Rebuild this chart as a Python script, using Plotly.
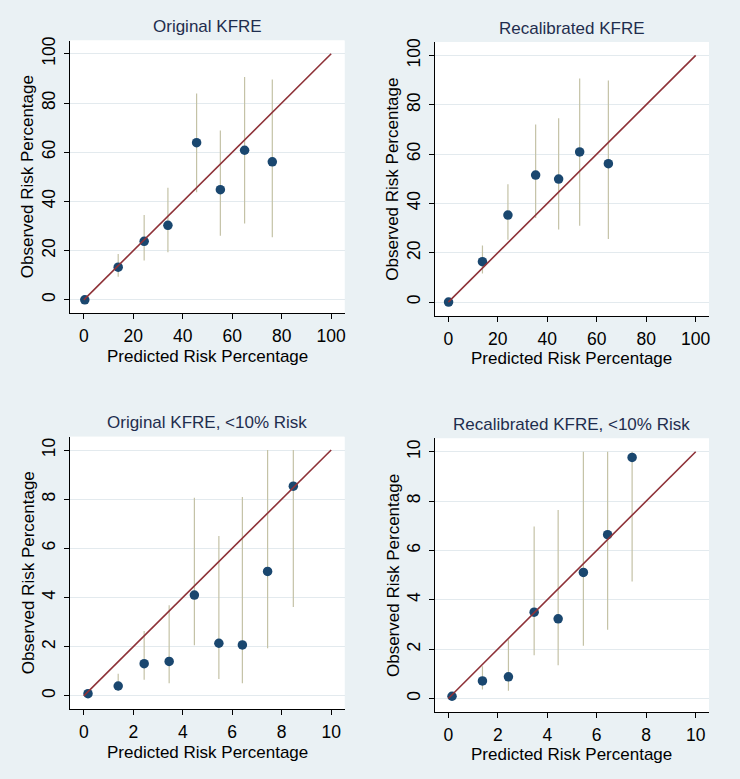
import plotly.graph_objects as go

# ---------------- data ----------------
titles = ["Original KFRE", "Recalibrated KFRE",
          "Original KFRE, <10% Risk", "Recalibrated KFRE, <10% Risk"]

p1_x = [0.4, 13.9, 24.4, 34.0, 45.6, 55.2, 65.0, 76.2]
p1_y = [0.0, 13.3, 23.8, 30.3, 63.9, 44.8, 60.8, 56.1]
p1_lo = [0.0, 9.4, 16.0, 19.4, 43.7, 26.1, 31.0, 25.4]
p1_hi = [0.0, 18.6, 34.5, 45.6, 83.9, 68.8, 90.6, 89.6]

p2_x = [0.1, 13.8, 24.1, 35.3, 44.6, 53.1, 64.7]
p2_y = [0.0, 16.4, 35.3, 51.5, 49.9, 60.9, 56.1]
p2_lo = [0.0, 11.6, 25.3, 34.1, 29.4, 31.0, 25.6]
p2_hi = [0.0, 23.0, 47.8, 72.0, 74.5, 90.6, 89.8]

p3_x = [0.17, 1.39, 2.44, 3.45, 4.47, 5.46, 6.41, 7.43, 8.47]
p3_y = [0.09, 0.40, 1.31, 1.40, 4.10, 2.14, 2.07, 5.06, 8.53]
p3_lo = [0.09, 0.22, 0.65, 0.51, 2.06, 0.69, 0.51, 1.94, 3.61]
p3_hi = [0.09, 0.90, 2.64, 3.69, 8.06, 6.50, 8.09, 10.0, 10.0]

p4_x = [0.15, 1.38, 2.43, 3.47, 4.44, 5.46, 6.44, 7.43]
p4_y = [0.09, 0.71, 0.88, 3.50, 3.23, 5.11, 6.64, 9.77]
p4_lo = [0.09, 0.36, 0.31, 1.75, 1.35, 2.14, 2.79, 4.74]
p4_hi = [0.09, 1.31, 2.39, 6.97, 7.64, 10.0, 10.0, 10.0]

diag_big = [0, 100]
diag_small = [0, 10]
ticks_big = [0, 20, 40, 60, 80, 100]
ticks_small = [0, 2, 4, 6, 8, 10]

x_title = "Predicted Risk Percentage"
y_title = "Observed Risk Percentage"

# ---------------- style ----------------
W, H = 740, 779
BG = "#EAF1F4"
NAVY = "#1A476F"
MAROON = "#8E3238"
SPIKE = "#C4C2A6"
GRID = "#E3EAEE"
TITLE_C = "#1F2D4E"
FONT = "Liberation Sans"

# plot-area boxes in pixels (left, right, top, bottom)
boxes = [(70.3, 345, 36.7, 311), (435.3, 710, 38.3, 313.3),
         (70.3, 345, 435, 709), (435.3, 710, 436.7, 711.7)]

panels = [
    (p1_x, p1_y, p1_lo, p1_hi, diag_big, ticks_big, [-5.5, 105.4]),
    (p2_x, p2_y, p2_lo, p2_hi, diag_big, ticks_big, [-5.5, 105.4]),
    (p3_x, p3_y, p3_lo, p3_hi, diag_small, ticks_small, [-0.55, 10.54]),
    (p4_x, p4_y, p4_lo, p4_hi, diag_small, ticks_small, [-0.55, 10.54]),
]

fig = go.Figure()
layout = {}
annotations = []

for i, ((xs, ys, lo, hi, diag, ticks, rng), box) in enumerate(zip(panels, boxes)):
    n = i + 1
    xa = "x" if n == 1 else f"x{n}"
    ya = "y" if n == 1 else f"y{n}"
    xk = "xaxis" if n == 1 else f"xaxis{n}"
    yk = "yaxis" if n == 1 else f"yaxis{n}"
    l, r, t, b = box

    # spikes (confidence intervals)
    sx, sy = [], []
    for xv, a, c in zip(xs, lo, hi):
        sx += [xv, xv, None]
        sy += [a, c, None]
    fig.add_trace(go.Scatter(x=sx, y=sy, mode="lines", xaxis=xa, yaxis=ya,
                             line=dict(color=SPIKE, width=1.2),
                             showlegend=False, hoverinfo="skip"))
    # points
    fig.add_trace(go.Scatter(x=xs, y=ys, mode="markers", xaxis=xa, yaxis=ya,
                             marker=dict(color=NAVY, size=9.5),
                             showlegend=False))
    # diagonal
    fig.add_trace(go.Scatter(x=diag, y=diag, mode="lines", xaxis=xa, yaxis=ya,
                             line=dict(color=MAROON, width=1.6),
                             showlegend=False, hoverinfo="skip"))

    common = dict(range=rng, tickvals=ticks, ticks="outside", ticklen=5,
                  tickwidth=1, tickcolor="black", showline=True,
                  linecolor="black", linewidth=1, zeroline=False,
                  tickfont=dict(family=FONT, size=17.5, color="black"),
                  fixedrange=True)
    layout[xk] = dict(common, domain=[l / W, r / W], anchor=ya,
                      showgrid=False, ticklabelstandoff=2)
    layout[yk] = dict(common, domain=[1 - b / H, 1 - t / H], anchor=xa,
                      showgrid=True, gridcolor=GRID, gridwidth=1,
                      tickangle=-90, ticklabelstandoff=2)

    cx = (l + r) / 2
    annotations.append(dict(text=titles[i], x=cx / W, y=1 - (t - 14) / H,
                            xref="paper", yref="paper", showarrow=False,
                            xanchor="center", yanchor="middle",
                            font=dict(family=FONT, size=17, color=TITLE_C)))
    annotations.append(dict(text=x_title, x=cx / W, y=1 - (b + 43) / H,
                            xref="paper", yref="paper", showarrow=False,
                            xanchor="center", yanchor="middle",
                            font=dict(family=FONT, size=17, color="black")))
    annotations.append(dict(text=y_title, x=(l - 42) / W, y=1 - ((t + b) / 2) / H,
                            xref="paper", yref="paper", showarrow=False,
                            textangle=-90, xanchor="center", yanchor="middle",
                            font=dict(family=FONT, size=17, color="black")))

shapes = []
for (l, r, t, b) in boxes:
    shapes.append(dict(type="rect", xref="paper", yref="paper",
                       x0=l / W, x1=r / W, y0=1 - b / H, y1=1 - t / H,
                       fillcolor="white", line=dict(width=0), layer="below"))

fig.update_layout(width=W, height=H, margin=dict(l=0, r=0, t=0, b=0),
                  paper_bgcolor=BG, plot_bgcolor="white",
                  annotations=annotations, shapes=shapes,
                  showlegend=False, **layout)

fig.write_html("out.html",
               config={"displayModeBar": False, "staticPlot": True},
               post_script="document.body.style.margin='0';"
                           "document.body.style.padding='0';"
                           "document.body.style.background='" + BG + "';")
